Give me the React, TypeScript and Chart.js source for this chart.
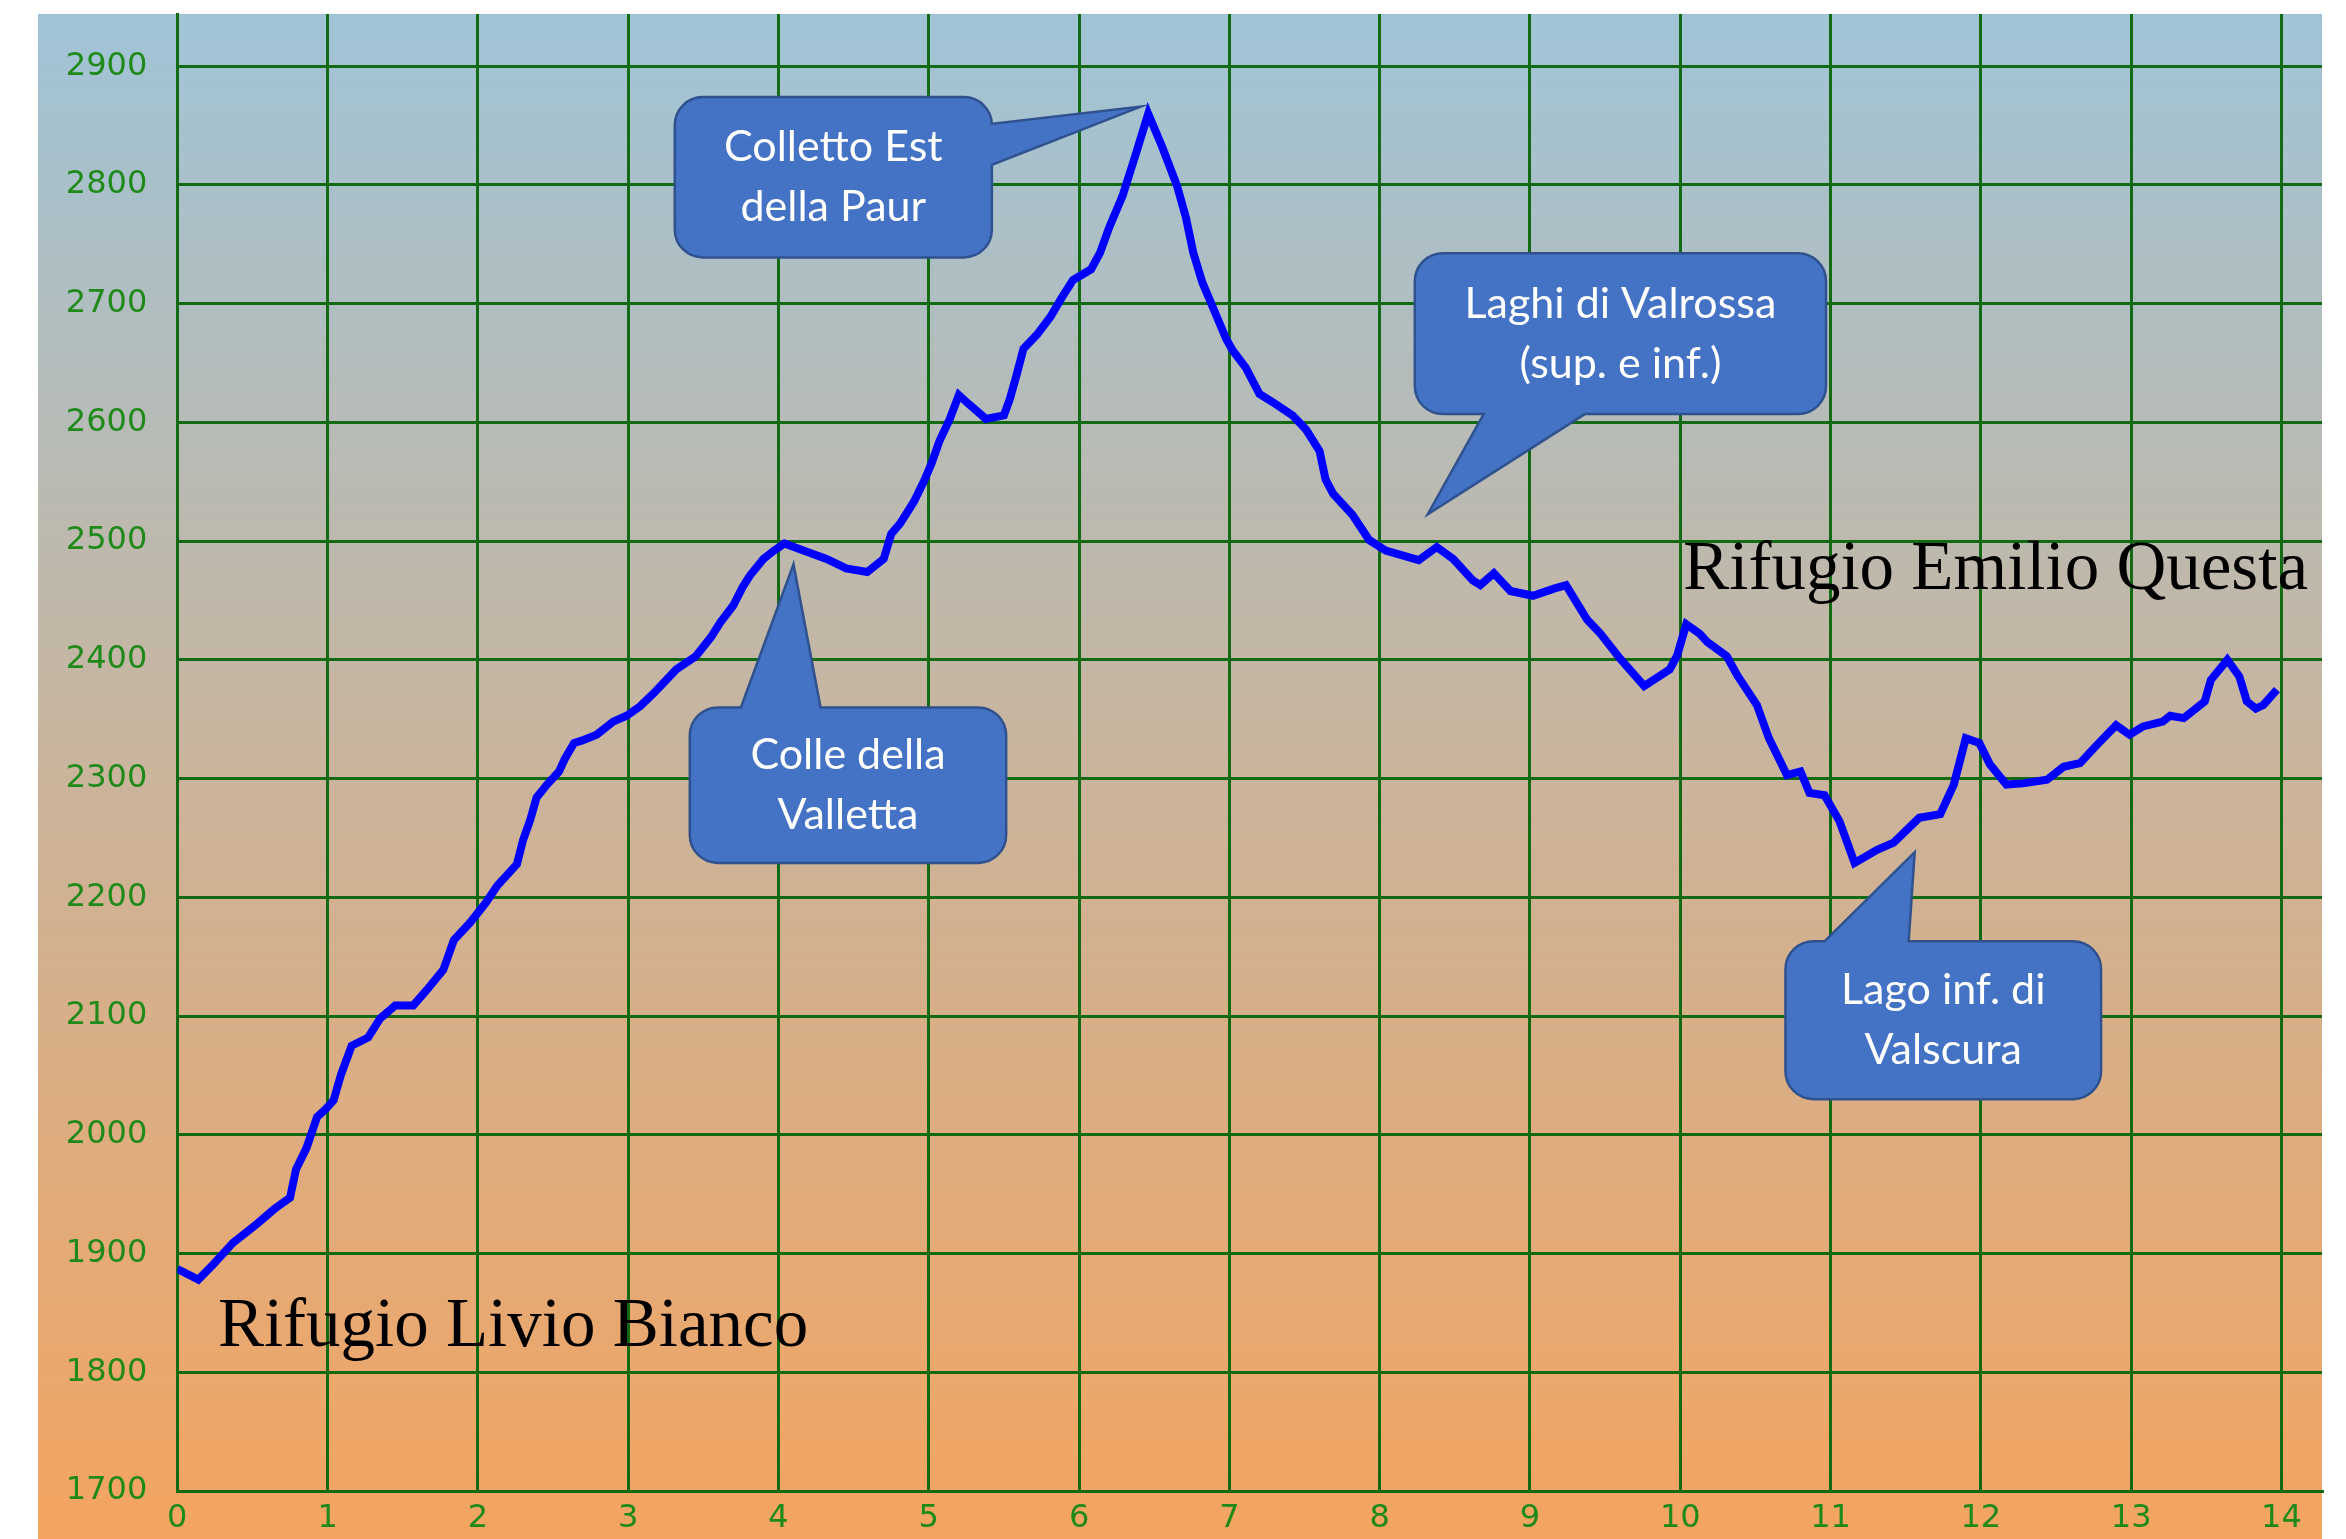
import React, { useEffect, useRef } from "react";
import { Chart, registerables } from "chart.js";

Chart.register(...registerables);

// ---- Data ----
const distanceKm = [
  0.0, 0.14, 0.24, 0.37, 0.53, 0.65, 0.75, 0.79, 0.86, 0.93, 0.99, 1.04, 1.09, 1.16, 1.27, 1.35, 1.45, 1.57, 1.66,
  1.77, 1.84, 1.95, 2.05, 2.13, 2.26, 2.3, 2.35, 2.39, 2.46, 2.54, 2.58, 2.64, 2.69, 2.79, 2.9, 2.99, 3.08, 3.17,
  3.32, 3.45, 3.55, 3.61, 3.7, 3.76, 3.81, 3.9, 3.97, 4.04, 4.17, 4.32, 4.45, 4.59, 4.7, 4.75, 4.81, 4.9, 4.97,
  5.02, 5.07, 5.14, 5.2, 5.27, 5.38, 5.5, 5.54, 5.58, 5.63, 5.72, 5.81, 5.88, 5.96, 6.08, 6.14, 6.2, 6.29, 6.38,
  6.46, 6.55, 6.65, 6.71, 6.76, 6.82, 6.89, 6.98, 7.02, 7.11, 7.2, 7.29, 7.42, 7.51, 7.6, 7.64, 7.69, 7.82, 7.93,
  8.04, 8.18, 8.26, 8.38, 8.49, 8.62, 8.67, 8.76, 8.87, 9.02, 9.16, 9.24, 9.38, 9.47, 9.6, 9.76, 9.93, 9.98, 10.04,
  10.13, 10.18, 10.31, 10.38, 10.51, 10.59, 10.71, 10.8, 10.86, 10.96, 11.06, 11.16, 11.31, 11.42, 11.59, 11.73,
  11.82, 11.9, 11.99, 12.06, 12.17, 12.28, 12.44, 12.55, 12.66, 12.77, 12.9, 12.99, 13.08, 13.21, 13.26, 13.35,
  13.43, 13.49, 13.53, 13.64, 13.72, 13.77, 13.83, 13.88, 13.97,
];
const elevationM = [
  1887, 1878, 1891, 1909, 1925, 1938, 1947, 1971, 1989, 2015, 2022, 2029, 2051, 2075, 2082, 2098, 2109, 2109, 2122,
  2139, 2164, 2179, 2195, 2210, 2228, 2248, 2266, 2284, 2295, 2306, 2317, 2330, 2332, 2337, 2348, 2353, 2361, 2372,
  2392, 2403, 2419, 2431, 2446, 2461, 2471, 2485, 2492, 2498, 2492, 2485, 2477, 2474, 2485, 2506, 2515, 2533, 2551,
  2566, 2584, 2603, 2623, 2615, 2603, 2606, 2620, 2638, 2662, 2674, 2689, 2704, 2720, 2729, 2743, 2764, 2791, 2827,
  2860, 2833, 2800, 2773, 2743, 2718, 2697, 2670, 2661, 2646, 2624, 2617, 2606, 2594, 2576, 2552, 2540, 2522, 2501,
  2492, 2487, 2484, 2495, 2485, 2467, 2463, 2473, 2458, 2454, 2460, 2463, 2434, 2422, 2401, 2378, 2392, 2404, 2430,
  2422, 2415, 2403, 2387, 2362, 2334, 2303, 2306, 2288, 2286, 2264, 2229, 2240, 2246, 2267, 2270,
  2295, 2334, 2330, 2312, 2295, 2296, 2299, 2310, 2313, 2328, 2345, 2337, 2344, 2348, 2353, 2351,
  2359, 2365, 2383, 2400, 2386, 2365, 2359, 2362, 2375,
];

// axis ranges (km / m)
const xRange = [0, 14.27];
const yRange = [1700, 2944];
const xStep = 1;
const yStep = 100;

// place labels (text, anchor km, anchor m)
const placeNames = ["Rifugio Livio Bianco", "Rifugio Emilio Questa"];
const placeKm = [0.27, 10.02];
const placeM = [1822, 2460];

// callouts, in data units
type Callout = {
  lines: string[];
  box: [number, number, number, number]; // km left, km right, m top, m bottom
  side: "top" | "bottom" | "right";
  base: [number, number];
  tip: [number, number];
};
const callouts: Callout[] = [
  { lines: ["Colletto Est", "della Paur"], box: [3.31, 5.42, 2874, 2739], side: "right", base: [2851.5, 2817], tip: [6.41, 2866] },
  { lines: ["Laghi di Valrossa", "(sup. e inf.)"], box: [8.234, 10.97, 2742.5, 2607], side: "bottom", base: [8.692, 9.365], tip: [8.32, 2522.7] },
  { lines: ["Colle della", "Valletta"], box: [3.41, 5.515, 2360, 2229], side: "top", base: [3.75, 4.28], tip: [4.1, 2480.6] },
  { lines: ["Lago inf. di", "Valscura"], box: [10.7, 12.8, 2163, 2030], side: "top", base: [10.96, 11.52], tip: [11.56, 2238] },
];

const GRID = "#126a12";
const TICK = "#1f8a1a";

function calloutPath(
  ctx: CanvasRenderingContext2D,
  x0: number, y0: number, x1: number, y1: number, r: number,
  side: string, a: number, b: number, tx: number, ty: number
) {
  ctx.beginPath();
  ctx.moveTo(x0 + r, y0);
  if (side === "top") { ctx.lineTo(a, y0); ctx.lineTo(tx, ty); ctx.lineTo(b, y0); }
  ctx.lineTo(x1 - r, y0);
  ctx.arcTo(x1, y0, x1, y0 + r, r);
  if (side === "right") { ctx.lineTo(x1, a); ctx.lineTo(tx, ty); ctx.lineTo(x1, b); }
  ctx.lineTo(x1, y1 - r);
  ctx.arcTo(x1, y1, x1 - r, y1, r);
  if (side === "bottom") { ctx.lineTo(b, y1); ctx.lineTo(tx, ty); ctx.lineTo(a, y1); }
  ctx.lineTo(x0 + r, y1);
  ctx.arcTo(x0, y1, x0, y1 - r, r);
  ctx.lineTo(x0, y0 + r);
  ctx.arcTo(x0, y0, x0 + r, y0, r);
  ctx.closePath();
}

const decorPlugin = {
  id: "decor",
  beforeDraw(chart: any) {
    const ctx: CanvasRenderingContext2D = chart.ctx;
    const right = chart.chartArea.right;
    ctx.save();
    const g = ctx.createLinearGradient(0, 14, 0, chart.height);
    g.addColorStop(0, "#a0c4d7");
    g.addColorStop(1, "#f4a460");
    ctx.fillStyle = g;
    ctx.fillRect(38, 14, right - 38, chart.height - 14);
    ctx.restore();
  },
  afterDatasetsDraw(chart: any) {
    const ctx: CanvasRenderingContext2D = chart.ctx;
    const xs = chart.scales.x;
    const ys = chart.scales.y;
    ctx.save();
    // place names
    ctx.fillStyle = "#000";
    ctx.font = '69px "Liberation Serif", serif';
    ctx.textAlign = "left";
    ctx.textBaseline = "alphabetic";
    placeNames.forEach((t, i) => {
      ctx.fillText(t, xs.getPixelForValue(placeKm[i]), ys.getPixelForValue(placeM[i]));
    });
    // callouts
    callouts.forEach((c) => {
      const x0 = xs.getPixelForValue(c.box[0]);
      const x1 = xs.getPixelForValue(c.box[1]);
      const y0 = ys.getPixelForValue(c.box[2]);
      const y1 = ys.getPixelForValue(c.box[3]);
      const conv = c.side === "right" ? (v: number) => ys.getPixelForValue(v) : (v: number) => xs.getPixelForValue(v);
      const a = conv(c.base[0]);
      const b = conv(c.base[1]);
      const tx = xs.getPixelForValue(c.tip[0]);
      const ty = ys.getPixelForValue(c.tip[1]);
      calloutPath(ctx, x0, y0, x1, y1, 28, c.side, a, b, tx, ty);
      ctx.fillStyle = "#4472c4";
      ctx.fill();
      ctx.lineWidth = 2.5;
      ctx.strokeStyle = "#2f528f";
      ctx.stroke();
      ctx.fillStyle = "#ffffff";
      ctx.font = '43px Lato, "Open Sans", sans-serif';
      ctx.textAlign = "center";
      ctx.textBaseline = "alphabetic";
      const cx = (x0 + x1) / 2;
      const cy = (y0 + y1) / 2;
      ctx.fillText(c.lines[0], cx, cy - 16);
      ctx.fillText(c.lines[1], cx, cy + 44);
    });
    ctx.restore();
  },
};

export default function App() {
  const canvasRef = useRef<HTMLCanvasElement | null>(null);

  useEffect(() => {
    document.body.style.margin = "0";
    document.body.style.overflow = "hidden";
    const canvas = canvasRef.current;
    if (!canvas) return;
    const points = distanceKm.map((x, i) => ({ x, y: elevationM[i] }));
    const chart = new Chart(canvas, {
      type: "line",
      data: {
        datasets: [
          {
            data: points,
            borderColor: "#0000ff",
            borderWidth: 8,
            pointRadius: 0,
            tension: 0,
            fill: false,
          },
        ],
      },
      options: {
        animation: false,
        responsive: false,
        devicePixelRatio: 1,
        layout: { padding: { left: 0, top: 14, right: 24, bottom: 0 } },
        plugins: { legend: { display: false }, tooltip: { enabled: false } },
        scales: {
          x: {
            type: "linear",
            min: xRange[0],
            max: xRange[1],
            afterFit: (s: any) => {
              s.height = 48;
              s.paddingLeft = 0;
              s.paddingRight = 0;
            },
            ticks: {
              stepSize: xStep,
              includeBounds: false,
              autoSkip: false,
              maxRotation: 0,
              color: TICK,
              padding: 8,
              font: { family: '"DejaVu Sans", sans-serif', size: 32 },
              callback: (v: any) => String(v),
            },
            grid: { color: GRID, lineWidth: 3, drawTicks: false },
            border: { color: GRID, width: 3 },
          },
          y: {
            type: "linear",
            min: yRange[0],
            max: yRange[1],
            afterFit: (s: any) => {
              s.width = 177.3;
              s.paddingTop = 0;
              s.paddingBottom = 0;
            },
            ticks: {
              stepSize: yStep,
              includeBounds: false,
              autoSkip: false,
              color: TICK,
              padding: 30,
              font: { family: '"DejaVu Sans", sans-serif', size: 32 },
              callback: (v: any) => String(v),
            },
            grid: { color: GRID, lineWidth: 3, drawTicks: false },
            border: { color: GRID, width: 3 },
          },
        },
      },
      plugins: [decorPlugin],
    });
    return () => chart.destroy();
  }, []);

  return (
    <div style={{ width: 2346, height: 1539, position: "relative" }}>
      <canvas ref={canvasRef} width={2346} height={1539} style={{ display: "block" }} />
    </div>
  );
}
